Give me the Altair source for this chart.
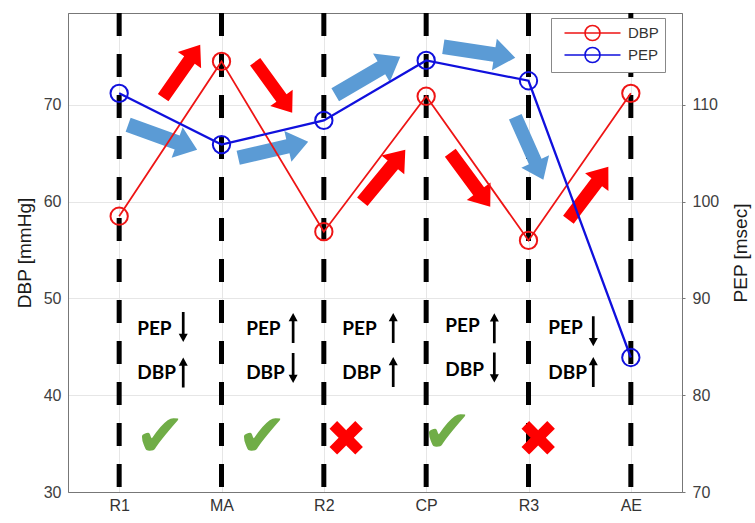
import altair as alt
import pandas as pd

categories = ["R1", "MA", "R2", "CP", "R3", "AE"]
dbp = [58.5, 74.5, 56.9, 70.9, 56.0, 71.2]
pep = [111.2, 105.9, 108.4, 114.6, 112.5, 83.9]

# block arrows: centre (category index, DBP units), length in px, angle in degrees
red_arrow_x = [0.611, 1.510, 2.586, 3.431, 4.585]
red_arrow_y = [73.49, 71.83, 62.68, 62.26, 60.87]
red_arrow_len = [64.6, 63.0, 67.5, 67.2, 66.4]
red_arrow_angle = [305.0, 54.0, 309.6, 53.5, 307.0]
blue_arrow_x = [0.425, 1.505, 2.429, 3.519, 4.008]
blue_arrow_y = [66.66, 65.37, 73.02, 75.45, 65.52]
blue_arrow_len = [73.4, 71.8, 75.3, 72.8, 69.0]
blue_arrow_angle = [19.9, 347.1, 329.7, 8.7, 66.0]

# per-interval annotations
label_x = [0.176, 1.241, 2.18, 3.187, 4.194]
pep_label_y = [46.86, 46.86, 46.86, 47.17, 46.96]
dbp_label_y = [42.31, 42.31, 42.31, 42.62, 42.31]
trend_x = [0.626, 1.70, 2.678, 3.666, 4.633]
pep_trend = ["down", "up", "up", "up", "down"]
dbp_trend = ["up", "down", "up", "down", "up"]
pep_trend_y = [47.06, 46.96, 46.96, 46.91, 46.60]
dbp_trend_y = [42.36, 42.82, 42.41, 42.87, 42.41]
verdict = ["ok", "ok", "no", "ok", "no"]
verdict_x = [0.401, 1.398, 2.218, 3.206, 4.096]
verdict_y = [35.6, 35.6, 35.3, 36.0, 35.3]

RED = "#ee1515"
BLUE = "#1010dd"
ARROW_RED = "#ff0000"
ARROW_BLUE = "#5b9bd5"
FONT = "Liberation Sans"

idx = list(range(len(categories)))
cat_df = pd.DataFrame({"x": idx, "cat": categories})
dbp_df = pd.DataFrame({"x": idx, "y": dbp, "series": "DBP"})
pep_df = pd.DataFrame({"x": idx, "y": pep, "series": "PEP"})
red_arr_df = pd.DataFrame({"x": red_arrow_x, "y": red_arrow_y,
                           "size": [v * v for v in red_arrow_len], "angle": red_arrow_angle})
blue_arr_df = pd.DataFrame({"x": blue_arrow_x, "y": blue_arrow_y,
                            "size": [v * v for v in blue_arrow_len], "angle": blue_arrow_angle})
labels_df = pd.DataFrame({"x": label_x * 2, "y": pep_label_y + dbp_label_y,
                          "t": ["PEP"] * 5 + ["DBP"] * 5})
trend_df = pd.DataFrame({"x": trend_x * 2, "y": pep_trend_y + dbp_trend_y,
                         "angle": [0 if d == "down" else 180 for d in pep_trend + dbp_trend]})
ok_df = pd.DataFrame({"x": [verdict_x[i] for i in range(5) if verdict[i] == "ok"],
                      "y": [verdict_y[i] for i in range(5) if verdict[i] == "ok"]})
no_df = pd.DataFrame({"x": [verdict_x[i] for i in range(5) if verdict[i] == "no"],
                      "y": [verdict_y[i] for i in range(5) if verdict[i] == "no"]})

label_expr = "[" + ",".join("'%s'" % c for c in categories) + "][datum.value]"

X = alt.X("x:Q", scale=alt.Scale(domain=[-0.5, 5.5], nice=False, zero=False),
          axis=alt.Axis(values=idx, labelExpr=label_expr, title=None, grid=True,
                        gridColor="#e6e6e6", ticks=False, labelPadding=5,
                        labelFontSize=16, labelColor="#333333", labelFont=FONT,
                        domainColor="#777777"))
YL = alt.Y("y:Q", scale=alt.Scale(domain=[30, 79.5], nice=False, zero=False),
           axis=alt.Axis(values=[30, 40, 50, 60, 70], title="DBP [mmHg]", orient="left",
                         grid=True, gridColor="#e6e6e6", ticks=False, labelPadding=7,
                         labelFontSize=16, labelColor="#404040", labelFont=FONT,
                         titleFont=FONT, titleFontSize=19, titleFontWeight="normal",
                         titleColor="#1a1a1a", titlePadding=9, domainColor="#777777"))
YR = alt.Y("y:Q", scale=alt.Scale(domain=[70, 119.5], nice=False, zero=False),
           axis=alt.Axis(values=[70, 80, 90, 100, 110], title="PEP [msec]", orient="right",
                         grid=False, ticks=True, tickSize=3, tickColor="#777777",
                         labelPadding=7, labelFontSize=16, labelColor="#404040",
                         labelFont=FONT, titleFont=FONT, titleFontSize=19,
                         titleFontWeight="normal", titleColor="#1a1a1a", titlePadding=13,
                         titleAngle=270, titleBaseline="top",
                         domainColor="#777777"))
COLOR = alt.Color("series:N", scale=alt.Scale(domain=["DBP", "PEP"], range=[RED, BLUE]),
                  legend=alt.Legend(title=None))

BLOCK = "M -1 -0.2 L 0.42 -0.2 L 0.42 -0.44 L 1 0 L 0.42 0.44 L 0.42 0.2 L -1 0.2 Z"
THIN = "M -0.09 -1 L 0.09 -1 L 0.09 0.45 L 0.3 0.45 L 0 1 L -0.3 0.45 L -0.09 0.45 Z"
LEG = ("M -3.5 0 L 3.5 0 M -0.94 0 A 0.94 0.94 0 1 0 0.94 0 "
       "A 0.94 0.94 0 1 0 -0.94 0")

rules = alt.Chart(cat_df).mark_rule(color="black", strokeWidth=5,
                                    strokeDash=[23, 18]).encode(x=X)
red_arrows = alt.Chart(red_arr_df).mark_point(shape=BLOCK, filled=True, fill=ARROW_RED,
                                              strokeWidth=0, opacity=1).encode(
    x=X, y=YL, size=alt.Size("size:Q", scale=None), angle=alt.Angle("angle:Q", scale=None))
blue_arrows = alt.Chart(blue_arr_df).mark_point(shape=BLOCK, filled=True, fill=ARROW_BLUE,
                                                strokeWidth=0, opacity=1).encode(
    x=X, y=YL, size=alt.Size("size:Q", scale=None), angle=alt.Angle("angle:Q", scale=None))
labels = alt.Chart(labels_df).mark_text(font="Lato", fontWeight="bold", fontSize=19,
                                        align="left", baseline="middle",
                                        color="black").encode(x=X, y=YL, text="t:N")
trends = alt.Chart(trend_df).mark_point(shape=THIN, filled=True, fill="black",
                                        strokeWidth=0, size=900, opacity=1).encode(
    x=X, y=YL, angle=alt.Angle("angle:Q", scale=None))
oks = alt.Chart(ok_df).mark_text(text="\u2714", font="DejaVu Sans", fontSize=60,
                                 color="#70ad47", baseline="middle").encode(x=X, y=YL)
nos = alt.Chart(no_df).mark_text(text="\u2716", font="DejaVu Sans", fontSize=50,
                                 color="#ff0000", baseline="middle").encode(x=X, y=YL)
dbp_line = alt.Chart(dbp_df).mark_line(strokeWidth=1.8).encode(x=X, y=YL, color=COLOR)
dbp_pts = alt.Chart(dbp_df).mark_point(filled=False, size=300, strokeWidth=2,
                                       opacity=1).encode(x=X, y=YL, color=COLOR)
pep_line = alt.Chart(pep_df).mark_line(strokeWidth=2.3).encode(x=X, y=YR, color=COLOR)
pep_pts = alt.Chart(pep_df).mark_point(filled=False, size=300, strokeWidth=2,
                                       opacity=1).encode(x=X, y=YR, color=COLOR)

left = alt.layer(rules, red_arrows, blue_arrows, labels, trends, oks, nos, dbp_line, dbp_pts)
right = alt.layer(pep_line, pep_pts)

chart = alt.layer(left, right).resolve_scale(y="independent").properties(
    width=614, height=479,
    autosize=alt.AutoSizeParams(type="none"),
    padding={"left": 68, "top": 13, "right": 73, "bottom": 31},
    background="white",
).configure_view(stroke="#777777", strokeWidth=1).configure_legend(
    orient="none", legendX=483, legendY=5, symbolType=LEG, symbolSize=256,
    symbolStrokeWidth=1.6, symbolFillColor="transparent", symbolOffset=26.5,
    labelOffset=26.5, labelFont=FONT, labelFontSize=15, labelColor="#333333",
    strokeColor="#888888", fillColor="white", padding=6, rowPadding=0,
)

chart.save("out.html", embed_options={"renderer": "svg", "actions": False})
